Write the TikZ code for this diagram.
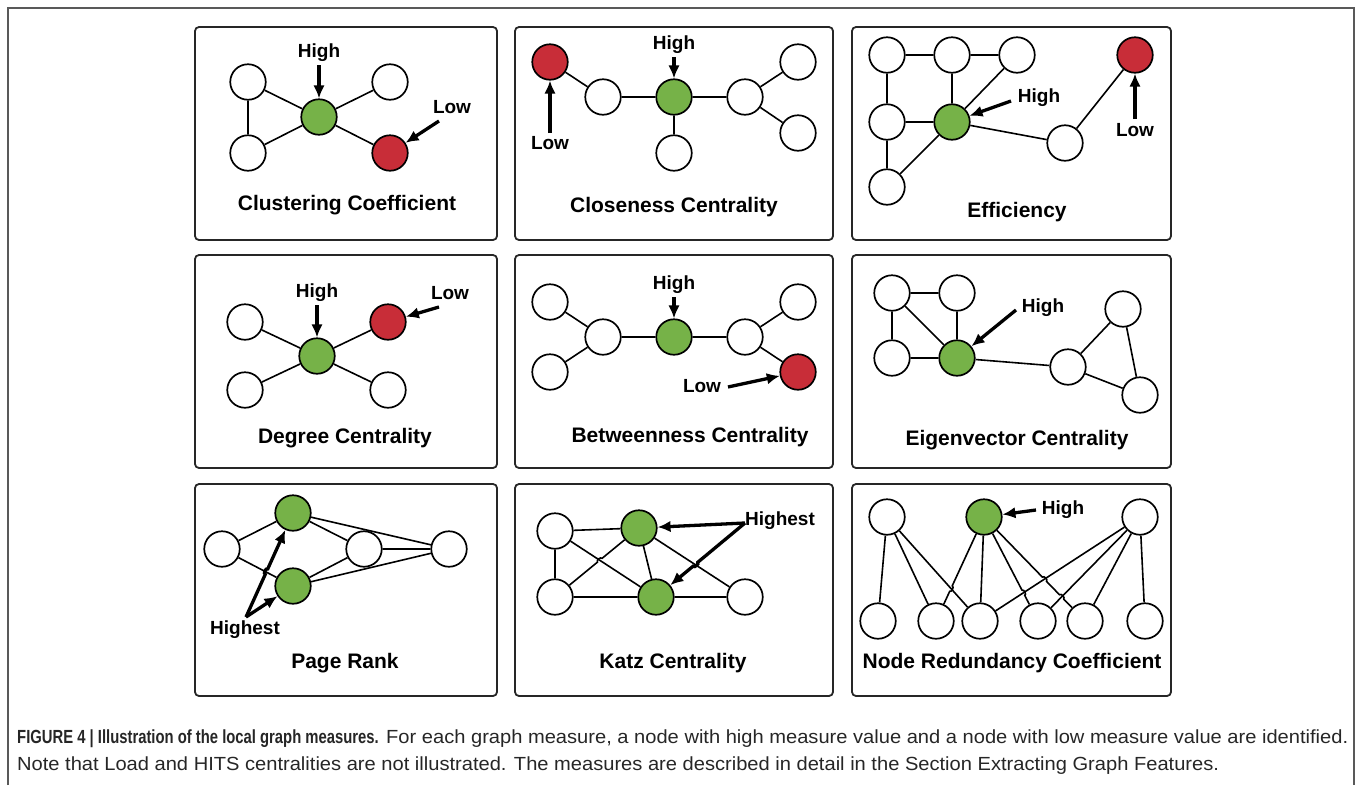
\documentclass[tikz,border=0pt]{standalone}
\usepackage{fontspec}
\setmainfont{Liberation Sans}
\newfontfamily\capfont[FakeStretch=1.058,BoldFeatures={FakeStretch=0.78}]{Liberation Sans}
\usetikzlibrary{arrows.meta,calc}
\definecolor{ngreen}{RGB}{118,178,72}
\definecolor{nred}{RGB}{200,45,56}
\begin{document}
\begin{tikzpicture}[x=1pt,y=-1pt,
 panel/.style={draw=black!85,line width=1.8pt,rounded corners=4pt},
 vtx/.style={circle,draw=black,line width=1.7pt,minimum size=35.5pt,inner sep=0pt,fill=white},
 hi/.style={vtx,fill=ngreen},
 lo/.style={vtx,fill=nred},
 edge/.style={line width=1.6pt},
 arr/.style={line width=3.3pt,-{Latex[length=13pt,width=11.5pt]}},
 ttl/.style={font=\fontsize{21}{25}\selectfont\bfseries},
 lbl/.style={font=\fontsize{19}{22}\selectfont\bfseries,inner sep=0pt},
 hop/.style={bend left=90},
 captxt/.style={anchor=base west,inner sep=0pt,text=black!85,font=\capfont\fontsize{19}{22}\selectfont},
]
\useasboundingbox (0,0) rectangle (1358,785);
% outer frame
\draw[black!65,line width=1.2pt] (8,785) -- (8,8) -- (1354,8) -- (1354,785);
% panels
\foreach \xa/\xb in {195/497,515/833,852/1171}{
  \foreach \ya/\yb in {27/240,255/468,484/696}{
    \draw[panel] (\xa,\ya) rectangle (\xb,\yb);
  }
}
% ---------- Panel 1: Clustering Coefficient
\node[vtx] (a1) at (248,82) {};
\node[vtx] (a2) at (248,153) {};
\node[hi]  (a3) at (319,117) {};
\node[vtx] (a4) at (390,82) {};
\node[lo]  (a5) at (390,153) {};
\draw[edge] (a1)--(a2) (a1)--(a3) (a2)--(a3) (a3)--(a4) (a3)--(a5);
\node[lbl] (a3l) at (319,53) {High};
\node[lbl] (a5l) at (452,107) {Low};
\coordinate (a3s) at (319,65);
\coordinate (a5s) at (439,121);
\draw[arr] (a3s) -- (a3);
\draw[arr] (a5s) -- (a5);
\node[ttl] (t1) at (347,205) {Clustering Coefficient};
% ---------- Panel 2: Closeness Centrality
\node[lo]  (b1) at (550,62) {};
\node[vtx] (b2) at (603,97) {};
\node[hi]  (b3) at (674,97) {};
\node[vtx] (b4) at (674,153) {};
\node[vtx] (b5) at (745,97) {};
\node[vtx] (b6) at (798,62) {};
\node[vtx] (b7) at (798,133) {};
\draw[edge] (b1)--(b2) (b2)--(b3) (b3)--(b4) (b3)--(b5) (b5)--(b6) (b5)--(b7);
\node[lbl] (b3l) at (674,45) {High};
\node[lbl] (b1l) at (550,143) {Low};
\coordinate (b3s) at (674,57);
\coordinate (b1s) at (550,133);
\draw[arr] (b3s) -- (b3);
\draw[arr] (b1s) -- (b1);
\node[ttl] (t2) at (674,207) {Closeness Centrality};
% ---------- Panel 3: Efficiency
\node[vtx] (c1) at (887,55) {};
\node[vtx] (c2) at (952,55) {};
\node[vtx] (c3) at (1017,55) {};
\node[vtx] (c4) at (887,122) {};
\node[hi]  (c5) at (952,122) {};
\node[vtx] (c6) at (887,187) {};
\node[vtx] (c7) at (1065,143) {};
\node[lo]  (c8) at (1135,55) {};
\draw[edge] (c1)--(c2) (c2)--(c3) (c1)--(c4) (c2)--(c5) (c4)--(c5) (c4)--(c6)
  (c3)--(c5) (c6)--(c5) (c5)--(c7) (c7)--(c8);
\node[lbl] (c5l) at (1039,98) {High};
\node[lbl] (c8l) at (1135,130) {Low};
\coordinate (c5s) at (1011,101);
\coordinate (c8s) at (1135,119);
\draw[arr] (c5s) -- (c5);
\draw[arr] (c8s) -- (c8);
\node[ttl] (t3) at (1017,212) {Efficiency};
% ---------- Panel 4: Degree Centrality
\node[vtx] (d1) at (245,322) {};
\node[vtx] (d2) at (245,390) {};
\node[hi]  (d3) at (317,356) {};
\node[lo]  (d4) at (388,322) {};
\node[vtx] (d5) at (388,390) {};
\draw[edge] (d1)--(d3) (d2)--(d3) (d3)--(d4) (d3)--(d5);
\node[lbl] (d3l) at (317,293) {High};
\node[lbl] (d4l) at (450,293) {Low};
\coordinate (d3s) at (317,305);
\coordinate (d4s) at (439,307);
\draw[arr] (d3s) -- (d3);
\draw[arr] (d4s) -- (d4);
\node[ttl] (t4) at (345,438) {Degree Centrality};
% ---------- Panel 5: Betweenness Centrality
\node[vtx] (e1) at (550,302) {};
\node[vtx] (e2) at (550,372) {};
\node[vtx] (e3) at (603,337) {};
\node[hi]  (e4) at (674,337) {};
\node[vtx] (e5) at (745,337) {};
\node[vtx] (e6) at (798,302) {};
\node[lo]  (e7) at (798,372) {};
\draw[edge] (e1)--(e3) (e2)--(e3) (e3)--(e4) (e4)--(e5) (e5)--(e6) (e5)--(e7);
\node[lbl] (e4l) at (674,285) {High};
\node[lbl] (e7l) at (702,386) {Low};
\coordinate (e4s) at (674,297);
\coordinate (e7s) at (728,387);
\draw[arr] (e4s) -- (e4);
\draw[arr] (e7s) -- (e7);
\node[ttl] (t5) at (690,437) {Betweenness Centrality};
% ---------- Panel 6: Eigenvector Centrality
\node[vtx] (f1) at (892,293) {};
\node[vtx] (f2) at (957,293) {};
\node[vtx] (f3) at (892,358) {};
\node[hi]  (f4) at (957,358) {};
\node[vtx] (f5) at (1068,367) {};
\node[vtx] (f6) at (1123,309) {};
\node[vtx] (f7) at (1140,395) {};
\draw[edge] (f1)--(f2) (f1)--(f3) (f1)--(f4) (f2)--(f4) (f3)--(f4) (f4)--(f5)
  (f5)--(f6) (f5)--(f7) (f6)--(f7);
\node[lbl] (f4l) at (1043,308) {High};
\coordinate (f4s) at (1016,310);
\draw[arr] (f4s) -- (f4);
\node[ttl] (t6) at (1017,440) {Eigenvector Centrality};
% ---------- Panel 7: Page Rank
\node[vtx] (g1) at (222,549) {};
\node[hi]  (g2) at (293,513) {};
\node[hi]  (g3) at (293,586) {};
\node[vtx] (g4) at (364,549) {};
\node[vtx] (g5) at (449,549) {};
\draw[edge] (g1)--(g2) (g1)--(g3) (g2)--(g4) (g3)--(g4) (g4)--(g5) (g2)--(g5) (g3)--(g5);
\node[lbl] (gl) at (245,630) {Highest};
\coordinate (gs) at (246,617);
\coordinate (gh) at ($(gs)!0.436!(g2)$);
\draw[arr] (gs) -- ($(gh)!3pt!(gs)$) to[hop] ($(gh)!3pt!(g2)$) -- (g2);
\draw[arr] (gs) -- (g3);
\node[ttl] (t7) at (345,663) {Page Rank};
% ---------- Panel 8: Katz Centrality
\node[vtx] (h1) at (555,531) {};
\node[hi]  (h2) at (639,528) {};
\node[vtx] (h3) at (555,597) {};
\node[hi]  (h4) at (656,597) {};
\node[vtx] (h5) at (745,597) {};
\draw[edge] (h1)--(h2) (h1)--(h3) (h1)--(h4) (h3)--(h4) (h2)--(h4) (h2)--(h5) (h4)--(h5);
\coordinate (hx) at ($(h3)!0.533!(h2)$);
\draw[edge] (h3) -- ($(hx)!3pt!(h3)$) to[hop] ($(hx)!3pt!(h2)$) -- (h2);
\node[lbl,anchor=west] (hl) at (745,521) {Highest};
\coordinate (hs) at (745,523);
\coordinate (hy) at ($(hs)!0.557!(h4)$);
\draw[arr] (hs) -- (h2);
\draw[arr] (hs) -- ($(hy)!3pt!(hs)$) to[hop] ($(hy)!3pt!(h4)$) -- (h4);
\node[ttl] (t8) at (673,663) {Katz Centrality};
% ---------- Panel 9: Node Redundancy Coefficient
\node[vtx] (i1) at (887,517) {};
\node[hi]  (i2) at (984,517) {};
\node[vtx] (i3) at (1140,517) {};
\node[vtx] (j1) at (878,621) {};
\node[vtx] (j2) at (936,621) {};
\node[vtx] (j3) at (980,621) {};
\node[vtx] (j4) at (1038,621) {};
\node[vtx] (j5) at (1085,621) {};
\node[vtx] (j6) at (1145,621) {};
\draw[edge] (i1)--(j1) (i1)--(j2) (i1)--(j3) (i3)--(j3) (i3)--(j4) (i3)--(j5) (i3)--(j6) (i2)--(j3);
\coordinate (k1) at ($(i2)!0.688!(j2)$);
\draw[edge] (i2) -- ($(k1)!3pt!(i2)$) to[hop] ($(k1)!3pt!(j2)$) -- (j2);
\coordinate (k2) at ($(i2)!0.729!(j4)$);
\draw[edge] (i2) -- ($(k2)!3pt!(i2)$) to[hop] ($(k2)!3pt!(j4)$) -- (j4);
\coordinate (k3) at ($(i2)!0.598!(j5)$);
\coordinate (k4) at ($(i2)!0.768!(j5)$);
\draw[edge] (i2) -- ($(k3)!3pt!(i2)$) to[hop] ($(k3)!3pt!(j5)$) -- ($(k4)!3pt!(i2)$) to[hop] ($(k4)!3pt!(j5)$) -- (j5);
\node[lbl] (i2l) at (1063,510) {High};
\coordinate (i2s) at (1036,510);
\draw[arr] (i2s) -- (i2);
\node[ttl] (t9) at (1012,663) {Node Redundancy Coefficient};
% ---------- Caption
\node[captxt] (cap1) at (17,743)
 {\textbf{FIGURE 4 | Illustration of the local graph measures.} For each graph measure, a node with high measure value and a node with low measure value are identified.};
\node[captxt] (cap2) at (17,770)
 {Note that Load and HITS centralities are not illustrated. The measures are described in detail in the Section Extracting Graph Features.};
\end{tikzpicture}
\end{document}
